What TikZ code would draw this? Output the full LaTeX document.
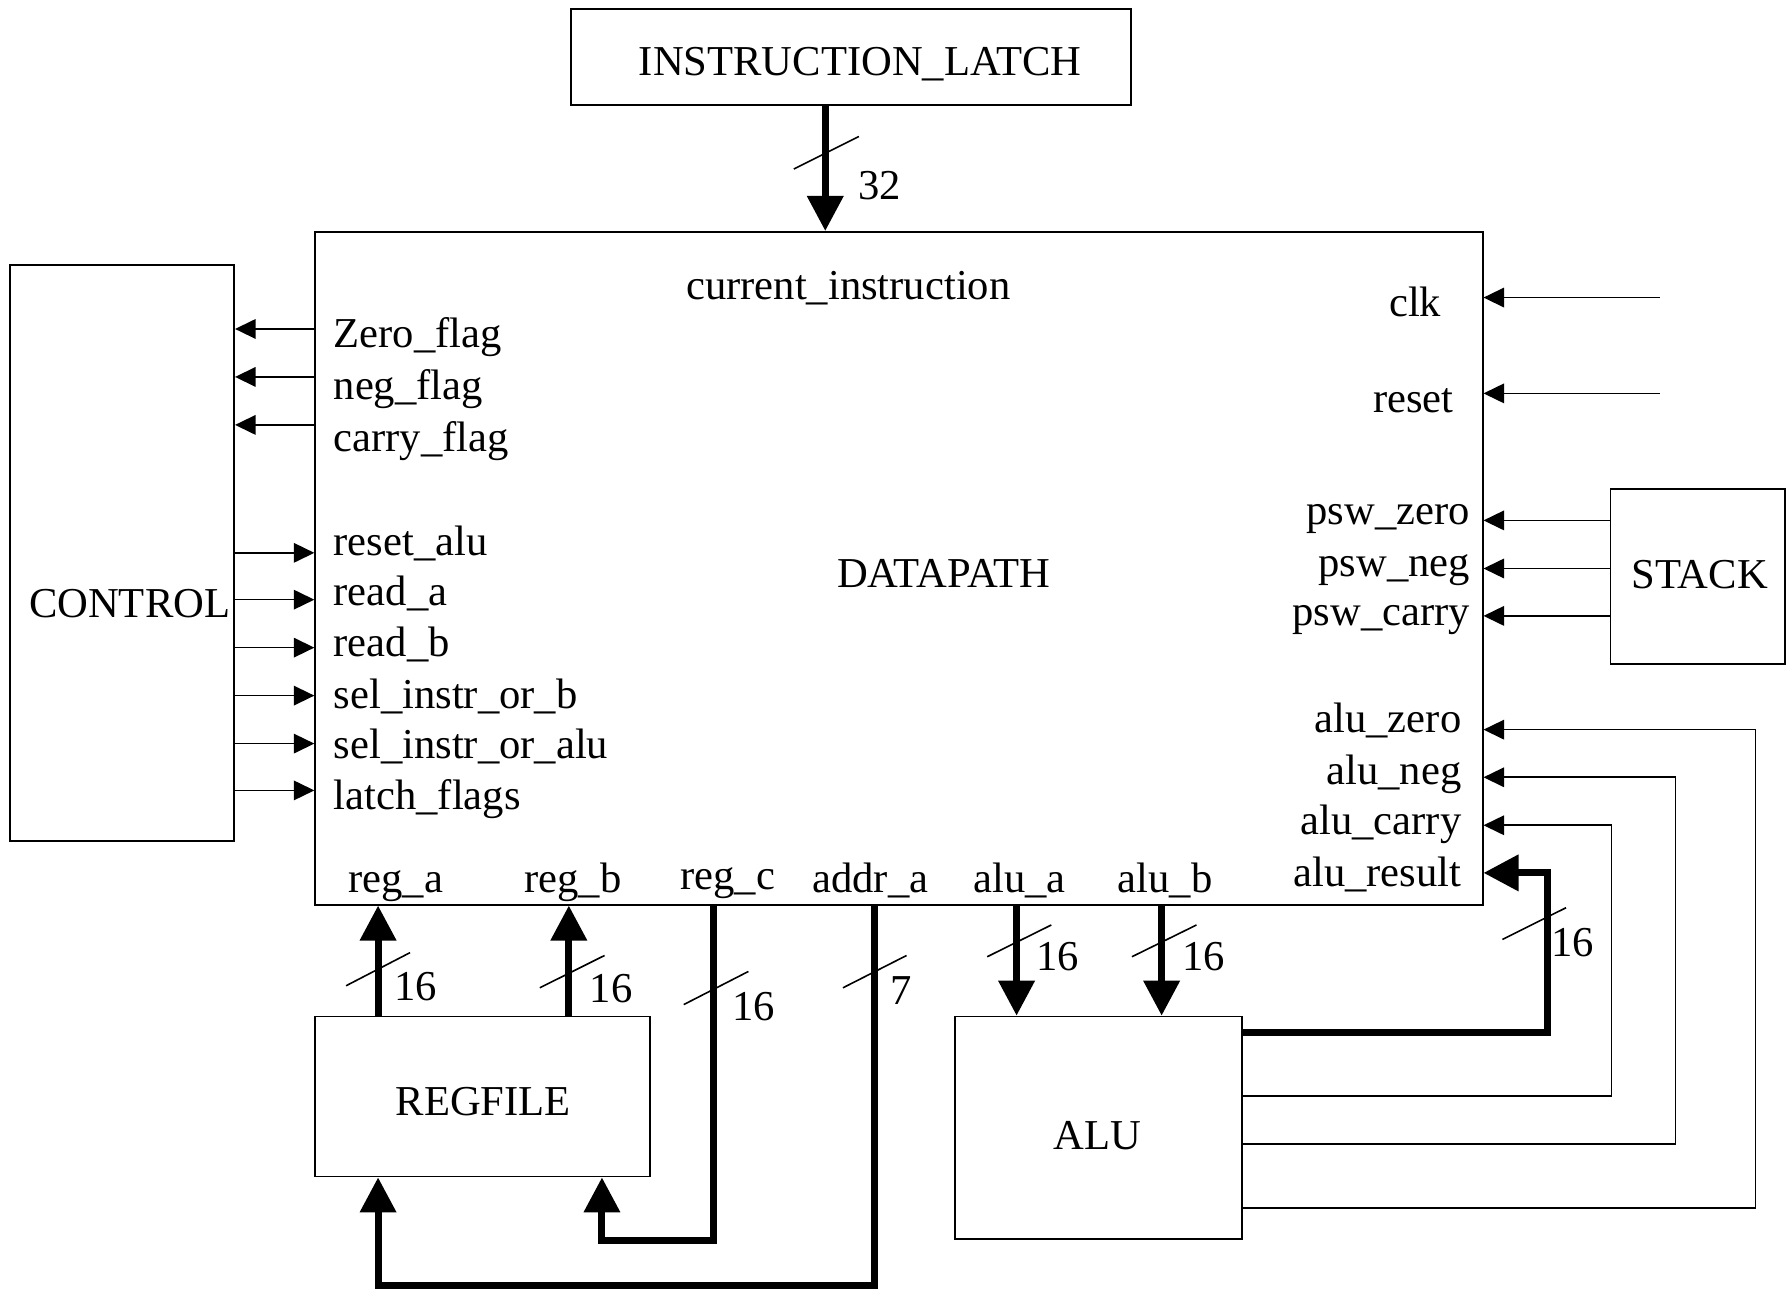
\documentclass[tikz,border=0pt]{standalone}
\usepackage{fontspec}
\setmainfont{Liberation Serif}
\usetikzlibrary{arrows.meta}
\begin{document}
\begin{tikzpicture}[x=1.1422pt,y=-1.1422pt,
  txt/.style={font=\fontsize{42.6pt}{50pt}\selectfont, inner sep=0pt},
  blk/.style 2 args={draw, line width=1.8pt, inner sep=0pt, minimum width={#1*1.1422pt}, minimum height={#2*1.1422pt}},
  sig/.style={line width=1.6pt, -{Triangle[length=20.5pt,width=19.5pt]}},
  bus/.style={line width=7pt, -{Triangle[length=35pt,width=35pt]}},
  tick/.style={line width=1.6pt},
]
\useasboundingbox (0,0) rectangle (1568,1129);

% blocks
\node[blk={490}{84}] (il) at (745,50) {};
\node[blk={1022}{589}] (dp) at (787,497.5) {};
\node[blk={196}{504}] (ctrl) at (107,484) {};
\node[blk={153}{153}] (stack) at (1486.5,504.5) {};
\node[blk={293}{140}] (rf) at (422.5,960) {};
\node[blk={251}{195}] (alu) at (961.5,987.5) {};

% block titles
\node[txt, anchor=base] (t-il) at (753,66) {INSTRUCTION\_LATCH};
\node[txt, anchor=base] (t-dp) at (826,514) {DATAPATH};
\node[txt, anchor=base] (t-ci) at (742.7,262) {current\_instruction};
\node[txt, anchor=base] (t-ctrl) at (113.5,541) {CONTROL};
\node[txt, anchor=base] (t-stack) at (1488,515) {STACK};
\node[txt, anchor=base] (t-rf) at (423,977) {REGFILE};
\node[txt, anchor=base] (t-alu) at (960.5,1006) {ALU};

% left port labels
\node[txt, anchor=base west] (l-zf) at (292,304) {Zero\_flag};
\node[txt, anchor=base west] (l-nf) at (292,350) {neg\_flag};
\node[txt, anchor=base west] (l-cf) at (292,395) {carry\_flag};
\node[txt, anchor=base west] (l-ra) at (292,486) {reset\_alu};
\node[txt, anchor=base west] (l-rda) at (292,530) {read\_a};
\node[txt, anchor=base west] (l-rdb) at (292,575) {read\_b};
\node[txt, anchor=base west] (l-sib) at (292,620) {sel\_instr\_or\_b};
\node[txt, anchor=base west] (l-sia) at (292,664) {sel\_instr\_or\_alu};
\node[txt, anchor=base west] (l-lf) at (292,709) {latch\_flags};

% right port labels
\node[txt, anchor=base] (r-clk) at (1239,277) {clk};
\node[txt, anchor=base] (r-rst) at (1237.5,361) {reset};
\node[txt, anchor=base east] (r-pz) at (1287,459) {psw\_zero};
\node[txt, anchor=base east] (r-pn) at (1287,505) {psw\_neg};
\node[txt, anchor=base east] (r-pc) at (1287,548) {psw\_carry};
\node[txt, anchor=base east] (r-az) at (1279.5,641) {alu\_zero};
\node[txt, anchor=base east] (r-an) at (1279.5,687) {alu\_neg};
\node[txt, anchor=base east] (r-ac) at (1279.5,731) {alu\_carry};
\node[txt, anchor=base east] (r-ar) at (1279.5,776) {alu\_result};

% bottom port labels
\node[txt, anchor=base] (b-ra) at (346.5,781) {reg\_a};
\node[txt, anchor=base] (b-rb) at (501.6,781) {reg\_b};
\node[txt, anchor=base] (b-rc) at (637,779) {reg\_c};
\node[txt, anchor=base] (b-ad) at (762,781) {addr\_a};
\node[txt, anchor=base] (b-aa) at (892.5,781) {alu\_a};
\node[txt, anchor=base] (b-ab) at (1020,781) {alu\_b};

% width labels
\node[txt, anchor=base] (w-il) at (770,175) {32};
\node[txt, anchor=base] (w-ra) at (364,876) {16};
\node[txt, anchor=base] (w-rb) at (535,878) {16};
\node[txt, anchor=base] (w-rc) at (660,893) {16};
\node[txt, anchor=base] (w-ad) at (789,879) {7};
\node[txt, anchor=base] (w-aa) at (926,850) {16};
\node[txt, anchor=base] (w-ab) at (1054,850) {16};
\node[txt, anchor=base] (w-ar) at (1377,837) {16};

% instruction bus
\coordinate (xi) at (722.5,0);
\draw[bus] (xi |- il.south) -- (xi |- dp.north);

% flags to control
\foreach \y in {288,330,372}
  \draw[sig] (dp.west |- 0,\y) -- (ctrl.east |- 0,\y);
% control signals
\foreach \y in {484,525,567,609,651,692}
  \draw[sig] (ctrl.east |- 0,\y) -- (dp.west |- 0,\y);

% clk / reset inputs
\coordinate (clkin) at (1453,260.5);
\coordinate (rstin) at (1453,344.4);
\draw[sig] (clkin) -- (dp.east |- clkin);
\draw[sig] (rstin) -- (dp.east |- rstin);

% stack flags
\foreach \y in {455.6,497.7,539.2}
  \draw[sig] (stack.west |- 0,\y) -- (dp.east |- 0,\y);

% alu flags
\draw[sig] (alu.east |- 0,959.6) -- (1410.8,959.6) -- (1410.8,722.5) -- (dp.east |- 0,722.5);
\draw[sig] (alu.east |- 0,1001.3) -- (1467,1001.3) -- (1467,680.5) -- (dp.east |- 0,680.5);
\draw[sig] (alu.east |- 0,1057.4) -- (1537,1057.4) -- (1537,638.8) -- (dp.east |- 0,638.8);
% alu result bus
\draw[bus] (alu.east |- 0,903.7) -- (1354.5,903.7) -- (1354.5,764.2) -- (dp.east |- 0,764.2);

% register buses
\draw[bus] (331,0 |- rf.north) -- (331,0 |- dp.south);
\draw[bus] (498,0 |- rf.north) -- (498,0 |- dp.south);
\draw[bus] (625,0 |- dp.south) -- (625,1086) -- (527,1086) -- (527,0 |- rf.south);
\draw[bus] (766,0 |- dp.south) -- (766,1125) -- (331,1125) -- (331,0 |- rf.south);
% alu operand buses
\draw[bus] (890,0 |- dp.south) -- (890,0 |- alu.north);
\draw[bus] (1017,0 |- dp.south) -- (1017,0 |- alu.north);

% bus width ticks
\draw[tick] (695,148) -- (752,119.5);
\draw[tick] (303,863) -- (359,834);
\draw[tick] (472.6,864.8) -- (529.3,836.5);
\draw[tick] (598.6,879.5) -- (655.2,850.5);
\draw[tick] (738,864.8) -- (793.7,836.5);
\draw[tick] (864.3,837.6) -- (920.4,809.8);
\draw[tick] (991,837.6) -- (1047.5,809.8);
\draw[tick] (1315.3,822.5) -- (1371,794.7);
\end{tikzpicture}
\end{document}
